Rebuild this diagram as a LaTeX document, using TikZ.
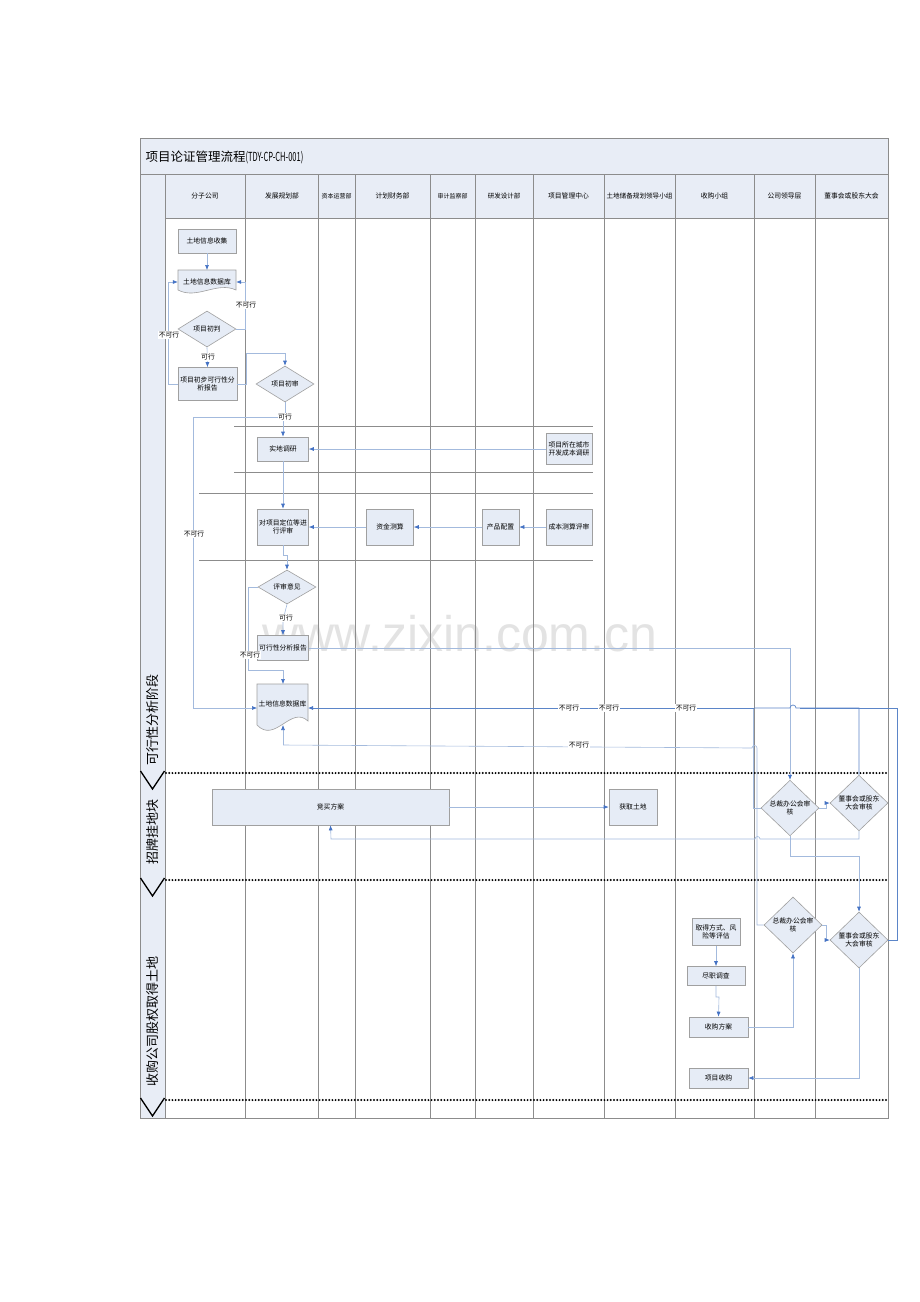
\documentclass[tikz,border=0pt]{standalone}
\usepackage{fontspec}
\setmainfont{Noto Sans CJK SC}
\newfontfamily\wmfont{Liberation Sans}
\usetikzlibrary{shapes.geometric,arrows.meta,calc}
\definecolor{nodefill}{HTML}{E6ECF6}
\definecolor{nodeline}{HTML}{A0A0A0}
\definecolor{lanefill}{HTML}{E8EDF6}
\definecolor{conn}{HTML}{A3BADD}
\definecolor{conndark}{HTML}{5B85C8}
\definecolor{arrowc}{HTML}{4472C4}
\definecolor{gridc}{HTML}{8C8C8C}
\tikzset{
  box/.style={draw=nodeline, fill=nodefill, line width=0.6pt, inner sep=0.5pt, font=\fontsize{6.8}{8.5}\selectfont, align=center},
  dia/.style={diamond, draw=nodeline, fill=nodefill, line width=0.6pt, inner sep=0pt, font=\fontsize{6.8}{8.5}\selectfont, align=center},
  docshape/.style={draw=nodeline, fill=nodefill, line width=0.6pt},
  cn/.style={draw=conn, line width=0.6pt, -{Latex[length=5pt,width=4pt,color=arrowc]}},
  cnd/.style={draw=conndark, line width=0.7pt, -{Latex[length=5pt,width=4pt,color=arrowc]}},
  ln/.style={draw=conn, line width=0.6pt},
  lnd/.style={draw=conndark, line width=0.7pt},
  lab/.style={fill=white, inner sep=0.6pt, font=\fontsize{6.8}{8}\selectfont},
  hdr/.style={font=\fontsize{6.8}{8}\selectfont},
  grid/.style={draw=gridc, line width=0.6pt},
  sep/.style={line width=2.2pt, dash pattern=on 0pt off 3.2pt, line cap=round},
  chev/.style={line width=1.3pt},
  phase/.style={rotate=90, font=\fontsize{13}{13}\selectfont}
}
\begin{document}
\begin{tikzpicture}[x=1pt,y=-1pt]
\useasboundingbox (0,0) rectangle (920,1302);
\fill[white] (0,0) rectangle (920,1302);
% backgrounds
\fill[lanefill] (140,138) rectangle (888,174);
\fill[lanefill] (165,174) rectangle (888,218);
\fill[lanefill] (140,174) rectangle (165,1118);
% watermark
\node[text=gray!22, font=\wmfont\fontsize{50}{50}\selectfont] (wm) at (460,634) {www.zixin.com.cn};
% grid
\draw[grid] (140,138) rectangle (888,1118);
\draw[grid] (140,174) -- (888,174);
\draw[grid] (165,218) -- (888,218);
\foreach \x in {165,245,318,355,430,475,533,604,675,754,815}{
  \draw[grid] (\x,174) -- (\x,1118);
}
% inner horizontal lines
\draw[grid, line width=0.5pt] (234,426) -- (593,426);
\draw[grid, line width=0.5pt] (234,472) -- (593,472);
\draw[grid, line width=0.5pt] (199,493) -- (593,493);
\draw[grid, line width=0.5pt] (199,560) -- (593,560);
% separators
\foreach \y in {773,880,1100}{
  \draw[sep] (166,\y) -- (888,\y);
  \draw[chev] (140.5,\y-2) -- (152.5,\y+16) -- (164.5,\y-2);
}
% title
\node[anchor=west, font=\fontsize{12.5}{13}\selectfont] (title) at (142,157) {项目论证管理流程\scalebox{0.6}[1]{(TDY-CP-CH-001)}};
% header
\node[hdr] (h1) at (205,196) {分子公司};
\node[hdr] (h2) at (282,196) {发展规划部};
\node[hdr, font=\fontsize{6}{7}\selectfont] (h3) at (336.5,196) {资本运营部};
\node[hdr] (h4) at (392.5,196) {计划财务部};
\node[hdr, font=\fontsize{6}{7}\selectfont] (h5) at (452.5,196) {审计监察部};
\node[hdr, font=\fontsize{6.5}{7}\selectfont] (h6) at (504,196) {研发设计部};
\node[hdr] (h7) at (568.5,196) {项目管理中心};
\node[hdr, font=\fontsize{6.6}{7}\selectfont] (h8) at (639.5,196) {土地储备规划领导小组};
\node[hdr] (h9) at (714.5,196) {收购小组};
\node[hdr] (h10) at (784.5,196) {公司领导层};
\node[hdr] (h11) at (851.5,196) {董事会或股东大会};
% phase labels
\node[phase] (ph1) at (153,720) {可行性分析阶段};
\node[phase] (ph2) at (153,832) {招牌挂地块};
\node[phase] (ph3) at (153,1021) {收购公司股权取得土地};

% ---------- nodes ----------
\node[box, minimum width=58pt, minimum height=24pt] (n1) at (207,241) {土地信息收集};
\draw[docshape] (178,270) -- (236,270) -- (236,290) .. controls (217,281) and (197,300) .. (178,290) -- cycle;
\node[hdr, minimum width=58pt, minimum height=24pt] (d1) at (207,282) {土地信息数据库};
\node[dia, minimum width=58pt, minimum height=36pt] (j1) at (207,329) {项目初判};
\node[box, minimum width=59pt, minimum height=33pt] (r1) at (207.5,384) {项目初步可行性分\\析报告};
\node[dia, minimum width=58pt, minimum height=36pt] (j2) at (285,384) {项目初审};
\node[box, minimum width=51pt, minimum height=24pt] (s1) at (283,449) {实地调研};
\node[box, minimum width=46pt, minimum height=31pt] (c1) at (569,449) {项目所在城市\\开发成本调研};
\node[box, minimum width=51pt, minimum height=36pt] (e1) at (283,527) {对项目定位等进\\行评审};
\node[box, minimum width=47pt, minimum height=36pt] (f1) at (390,527) {资金测算};
\node[box, minimum width=37pt, minimum height=36pt] (p1) at (500.5,527) {产品配置};
\node[box, minimum width=46pt, minimum height=36pt] (cb) at (569,527) {成本测算评审};
\node[dia, minimum width=58pt, minimum height=34pt] (j3) at (287,587) {评审意见};
\node[box, minimum width=51pt, minimum height=25pt] (k1) at (283,648) {可行性分析报告};
\draw[docshape] (257,684) -- (308,684) -- (308,721) .. controls (291,705) and (275,744) .. (257,725) -- cycle;
\node[hdr, minimum width=51pt, minimum height=40pt] (d2) at (282.5,704) {土地信息数据库};
\node[box, minimum width=237pt, minimum height=36pt] (m1) at (330.5,807) {竞买方案};
\node[box, minimum width=48pt, minimum height=36pt] (g1) at (633,807) {获取土地};
\node[dia, minimum width=58pt, minimum height=54pt] (z1) at (790,808) {总裁办公会审\\核};
\node[dia, minimum width=58pt, minimum height=46pt] (b1) at (859,803) {董事会或股东\\大会审核};
\node[box, minimum width=48pt, minimum height=27pt] (q1) at (716,932) {取得方式、风\\险等评估};
\node[box, minimum width=58pt, minimum height=19pt] (q2) at (716,976) {尽职调查};
\node[box, minimum width=59pt, minimum height=20pt] (q3) at (718.5,1027) {收购方案};
\node[box, minimum width=59pt, minimum height=20pt] (q4) at (718.5,1078) {项目收购};
\node[dia, minimum width=58pt, minimum height=56pt] (z2) at (793,925) {总裁办公会审\\核};
\node[dia, minimum width=58pt, minimum height=56pt] (b2) at (859,940) {董事会或股东\\大会审核};

% ---------- connectors ----------
\draw[cn] (n1.south) -- (207,270);
\draw[cn] (j1.east) -- (245,329) -- (245,282) -- (d1.east);
\node[lab] (l1) at (246,305) {不可行};
\draw[cn] (r1.west) -- (168,384) -- (168,282) -- (d1.west);
\node[lab] (l2) at (169,335) {不可行};
\draw[cn] (j1.south) -- (r1.north);
\node[lab] (l3) at (208,357) {可行};
\draw[cn] (r1.east) -- (246,384) -- (246,353) -- (285,353) -- (j2.north);
\draw[ln] (j2.south) -- (285,417) -- (193,417) -- (193,534);
\draw[cn] (193,534) -- (193,708) -- (257,708);
\node[lab] (l4) at (194,534) {不可行};
\draw[cn] (j2.south) -- (285,417) -- (283,417) -- (s1.north);
\node[lab] (l5) at (285,417) {可行};
\draw[cn] (c1.west) -- (s1.east);
\draw[cn] (s1.south) -- (e1.north);
\draw[cn] (f1.west) -- (e1.east);
\draw[cn] (p1.west) -- (f1.east);
\draw[cn] (cb.west) -- (p1.east);
\draw[cn] (e1.south) -- (283,555) -- (287,555) -- (j3.north);
\draw[cn] (j3.south) -- (283,620) -- (k1.north);
\node[lab] (l6) at (286,618) {可行};
\draw[cn] (j3.west) -- (248,587) -- (248,670) -- (283,670) -- (283,684);
\node[lab] (l7) at (250,655) {不可行};
\draw[cn] (k1.east) -- (790,648) -- (z1.north);
% no-go lines into lower database
\draw[lnd] (b2.east) -- (897,940) -- (897,708) -- (800,708);
\draw[lnd] (b1.north) -- (859,708) -- (796,708) arc[start angle=0, end angle=180, radius=3pt] -- (754,708);
\draw[ln] (z1.west) -- (753,808) -- (753,708);
\draw[cnd] (754,708) -- (308,708);
\node[lab] (l8) at (569,708) {不可行};
\node[lab] (l9) at (609,708) {不可行};
\node[lab] (l10) at (686,708) {不可行};
\draw[ln] (z2.west) -- (757,925) -- (757,748) arc[start angle=0, end angle=180, radius=2.5pt] -- (283,745);
\draw[cn] (283,745) -- (283,725);
\node[lab] (l11) at (579,745) {不可行};
\draw[cn] (z1.east) -- (826,808) -- (826,803) -- (b1.west);
\draw[cn] (b1.south) -- (859,839) -- (760,839) arc[start angle=0, end angle=180, radius=2.5pt] -- (331,839) -- (m1.south);
\draw[cn] (m1.east) -- (g1.west);
\draw[cn] (z1.south) -- (790,856) -- (859,856) -- (b2.north);
\draw[cn] (q1.south) -- (q2.north);
\draw[cn] (q2.south) -- (716,997) -- (719,997) -- (q3.north);
\draw[cn] (q3.east) -- (793,1027) -- (z2.south);
\draw[cn] (z2.east) -- (826,925) -- (826,940) -- (b2.west);
\draw[cn] (b2.south) -- (859,1078) -- (q4.east);
\end{tikzpicture}
\end{document}
